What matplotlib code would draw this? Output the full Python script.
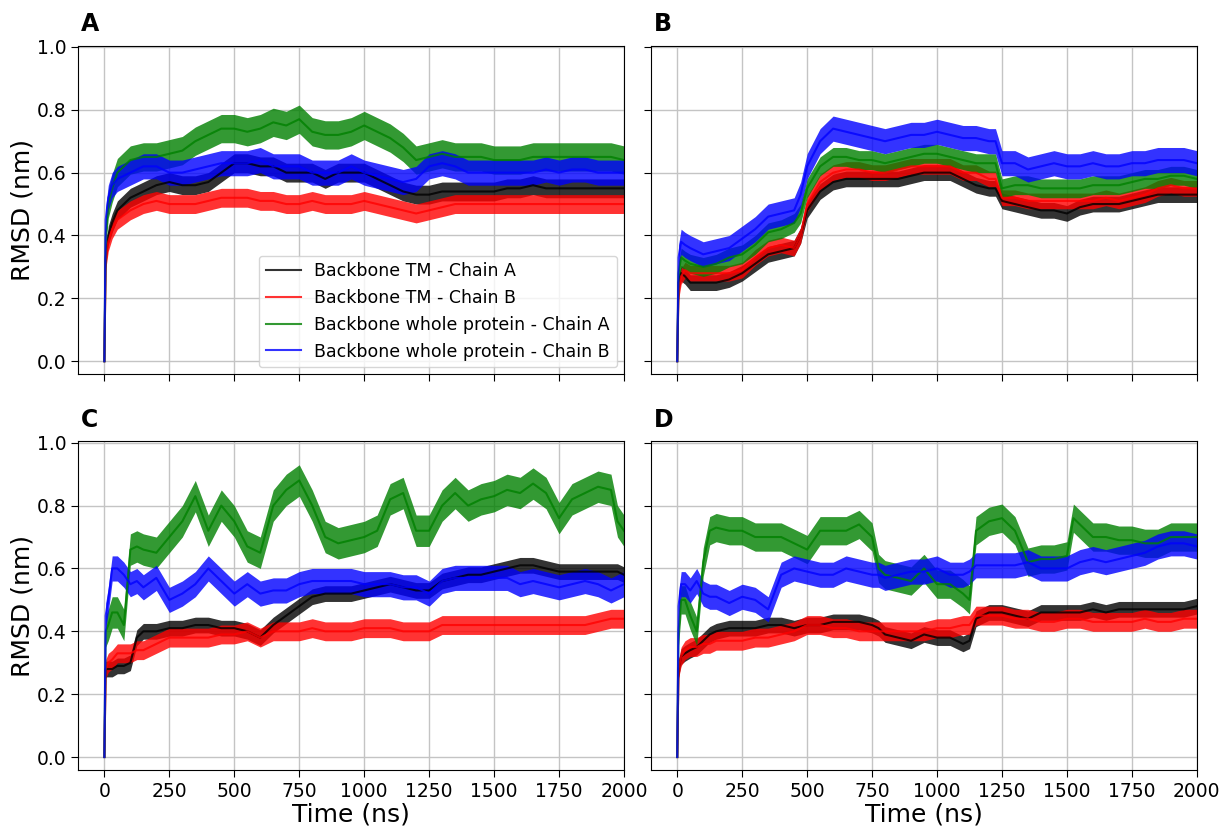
import matplotlib
matplotlib.use('Agg')
import matplotlib.pyplot as plt
import numpy as np

# Simulation time (ns) and mean RMSD (nm) traces, one set per system
time_a = [0, 5, 15, 30, 50, 100, 150, 200, 250, 300, 350, 400, 450, 500, 550,
          600, 650, 700, 750, 800, 850, 900, 950, 1000, 1050, 1100, 1150, 1200,
          1250, 1300, 1350, 1400, 1450, 1500, 1550, 1600, 1650, 1700, 1750,
          1800, 1850, 1900, 1950, 2000]
tm_a_chain_a = [0, 0.33, 0.40, 0.44, 0.48, 0.52, 0.54, 0.56, 0.57, 0.56, 0.56,
                0.57, 0.60, 0.63, 0.63, 0.62, 0.62, 0.60, 0.60, 0.60, 0.58,
                0.60, 0.60, 0.60, 0.58, 0.56, 0.54, 0.53, 0.53, 0.54, 0.54,
                0.54, 0.54, 0.54, 0.55, 0.55, 0.56, 0.55, 0.55, 0.55, 0.55,
                0.55, 0.55, 0.55]
tm_a_chain_b = [0, 0.32, 0.38, 0.42, 0.45, 0.48, 0.50, 0.51, 0.50, 0.50, 0.50,
                0.51, 0.52, 0.52, 0.52, 0.51, 0.51, 0.50, 0.50, 0.51, 0.50,
                0.50, 0.50, 0.51, 0.50, 0.49, 0.48, 0.47, 0.48, 0.49, 0.50,
                0.50, 0.50, 0.50, 0.50, 0.50, 0.50, 0.50, 0.50, 0.50, 0.50,
                0.50, 0.50, 0.50]
whole_a_chain_a = [0, 0.40, 0.50, 0.55, 0.60, 0.64, 0.65, 0.65, 0.66, 0.67,
                   0.70, 0.72, 0.74, 0.74, 0.73, 0.74, 0.76, 0.75, 0.77, 0.73,
                   0.72, 0.72, 0.73, 0.75, 0.73, 0.71, 0.68, 0.64, 0.65, 0.66,
                   0.65, 0.65, 0.65, 0.64, 0.64, 0.64, 0.65, 0.65, 0.65, 0.65,
                   0.65, 0.65, 0.65, 0.64]
whole_a_chain_b = [0, 0.45, 0.52, 0.56, 0.58, 0.60, 0.62, 0.62, 0.60, 0.60,
                   0.61, 0.62, 0.63, 0.63, 0.63, 0.64, 0.62, 0.62, 0.62, 0.60,
                   0.60, 0.60, 0.62, 0.60, 0.59, 0.58, 0.57, 0.58, 0.62, 0.63,
                   0.62, 0.60, 0.60, 0.60, 0.60, 0.60, 0.60, 0.61, 0.60, 0.61,
                   0.61, 0.60, 0.60, 0.60]

time_b = [0, 5, 15, 30, 50, 100, 150, 200, 250, 300, 350, 400, 450, 475, 500,
          550, 600, 650, 700, 750, 800, 850, 900, 950, 1000, 1050, 1100, 1150,
          1200, 1225, 1250, 1300, 1350, 1400, 1450, 1500, 1550, 1600, 1650,
          1700, 1750, 1800, 1850, 1900, 1950, 2000]
tm_b_chain_a = [0, 0.25, 0.28, 0.27, 0.25, 0.25, 0.25, 0.26, 0.28, 0.31, 0.34,
                0.35, 0.36, 0.40, 0.48, 0.54, 0.57, 0.58, 0.58, 0.58, 0.58,
                0.58, 0.59, 0.60, 0.60, 0.60, 0.58, 0.56, 0.55, 0.55, 0.51,
                0.50, 0.49, 0.48, 0.48, 0.47, 0.49, 0.50, 0.50, 0.50, 0.51,
                0.52, 0.53, 0.53, 0.53, 0.53]
tm_b_chain_b = [0, 0.22, 0.27, 0.29, 0.28, 0.28, 0.28, 0.28, 0.29, 0.33, 0.36,
                0.37, 0.36, 0.40, 0.50, 0.57, 0.60, 0.61, 0.61, 0.60, 0.60,
                0.61, 0.62, 0.62, 0.62, 0.62, 0.60, 0.60, 0.58, 0.58, 0.52,
                0.52, 0.51, 0.51, 0.51, 0.51, 0.51, 0.51, 0.52, 0.51, 0.52,
                0.53, 0.55, 0.56, 0.55, 0.55]
whole_b_chain_a = [0, 0.28, 0.33, 0.32, 0.31, 0.30, 0.31, 0.33, 0.34, 0.37,
                   0.41, 0.42, 0.44, 0.47, 0.55, 0.62, 0.65, 0.65, 0.64, 0.64,
                   0.63, 0.64, 0.65, 0.66, 0.66, 0.65, 0.64, 0.63, 0.63, 0.63,
                   0.55, 0.56, 0.56, 0.55, 0.55, 0.55, 0.55, 0.56, 0.56, 0.56,
                   0.57, 0.58, 0.58, 0.59, 0.59, 0.58]
whole_b_chain_b = [0, 0.33, 0.38, 0.37, 0.36, 0.34, 0.35, 0.36, 0.39, 0.42,
                   0.46, 0.47, 0.48, 0.53, 0.62, 0.70, 0.74, 0.73, 0.72, 0.71,
                   0.70, 0.71, 0.72, 0.72, 0.73, 0.72, 0.71, 0.71, 0.70, 0.70,
                   0.63, 0.63, 0.61, 0.62, 0.63, 0.62, 0.62, 0.63, 0.62, 0.62,
                   0.63, 0.63, 0.64, 0.64, 0.64, 0.63]

time_c = [0, 5, 15, 30, 50, 75, 100, 125, 150, 200, 250, 300, 350, 400, 450,
          500, 550, 600, 650, 700, 750, 800, 850, 900, 950, 1000, 1050, 1100,
          1150, 1200, 1250, 1300, 1350, 1400, 1450, 1500, 1550, 1600, 1650,
          1700, 1750, 1800, 1850, 1900, 1950, 1975, 2000]
tm_c_chain_a = [0, 0.28, 0.28, 0.28, 0.29, 0.29, 0.30, 0.38, 0.40, 0.40, 0.41,
                0.41, 0.42, 0.42, 0.41, 0.41, 0.40, 0.38, 0.42, 0.45, 0.48,
                0.51, 0.52, 0.52, 0.52, 0.53, 0.54, 0.55, 0.54, 0.53, 0.53,
                0.56, 0.57, 0.58, 0.58, 0.59, 0.60, 0.61, 0.61, 0.60, 0.59,
                0.59, 0.59, 0.59, 0.59, 0.59, 0.58]
tm_c_chain_b = [0, 0.28, 0.30, 0.31, 0.33, 0.33, 0.33, 0.34, 0.34, 0.36, 0.38,
                0.38, 0.38, 0.38, 0.39, 0.39, 0.40, 0.38, 0.40, 0.40, 0.40,
                0.41, 0.40, 0.40, 0.40, 0.41, 0.41, 0.41, 0.40, 0.40, 0.40,
                0.42, 0.42, 0.42, 0.42, 0.42, 0.42, 0.42, 0.42, 0.42, 0.42,
                0.42, 0.42, 0.43, 0.44, 0.44, 0.44]
whole_c_chain_a = [0, 0.40, 0.42, 0.46, 0.46, 0.42, 0.66, 0.67, 0.66, 0.65,
                   0.70, 0.75, 0.83, 0.72, 0.80, 0.75, 0.67, 0.65, 0.80, 0.85,
                   0.88, 0.80, 0.70, 0.68, 0.69, 0.70, 0.72, 0.82, 0.84, 0.72,
                   0.72, 0.80, 0.84, 0.80, 0.82, 0.83, 0.85, 0.84, 0.87, 0.84,
                   0.76, 0.82, 0.84, 0.86, 0.85, 0.75, 0.72]
whole_c_chain_b = [0, 0.45, 0.50, 0.60, 0.60, 0.58, 0.55, 0.56, 0.54, 0.57,
                   0.50, 0.52, 0.55, 0.60, 0.56, 0.52, 0.55, 0.52, 0.53, 0.53,
                   0.55, 0.56, 0.56, 0.56, 0.56, 0.55, 0.55, 0.55, 0.54, 0.54,
                   0.52, 0.56, 0.57, 0.57, 0.57, 0.57, 0.57, 0.55, 0.56, 0.55,
                   0.54, 0.55, 0.56, 0.55, 0.53, 0.54, 0.55]

time_d = [0, 5, 15, 30, 50, 75, 100, 125, 150, 200, 250, 300, 350, 400, 450,
          500, 550, 600, 650, 700, 750, 775, 800, 850, 900, 950, 1000, 1050,
          1100, 1125, 1150, 1200, 1250, 1300, 1350, 1400, 1450, 1500, 1525,
          1550, 1600, 1650, 1700, 1750, 1800, 1850, 1900, 1950, 2000]
tm_d_chain_a = [0, 0.28, 0.32, 0.33, 0.34, 0.35, 0.37, 0.39, 0.40, 0.41, 0.41,
                0.41, 0.42, 0.42, 0.41, 0.42, 0.42, 0.43, 0.43, 0.43, 0.42,
                0.41, 0.39, 0.38, 0.37, 0.39, 0.38, 0.38, 0.36, 0.37, 0.44,
                0.46, 0.46, 0.45, 0.44, 0.46, 0.46, 0.46, 0.46, 0.46, 0.47,
                0.46, 0.47, 0.47, 0.47, 0.47, 0.47, 0.47, 0.48]
tm_d_chain_b = [0, 0.28, 0.32, 0.34, 0.35, 0.35, 0.36, 0.36, 0.37, 0.37, 0.37,
                0.38, 0.38, 0.39, 0.40, 0.42, 0.42, 0.41, 0.41, 0.40, 0.40,
                0.40, 0.40, 0.40, 0.40, 0.40, 0.41, 0.41, 0.42, 0.42, 0.45,
                0.45, 0.45, 0.44, 0.44, 0.43, 0.43, 0.44, 0.44, 0.44, 0.43,
                0.43, 0.43, 0.43, 0.44, 0.43, 0.43, 0.44, 0.44]
whole_d_chain_a = [0, 0.40, 0.50, 0.50, 0.45, 0.40, 0.62, 0.72, 0.73, 0.72,
                   0.72, 0.70, 0.70, 0.70, 0.68, 0.66, 0.72, 0.72, 0.72, 0.74,
                   0.70, 0.60, 0.58, 0.57, 0.56, 0.60, 0.55, 0.55, 0.52, 0.50,
                   0.72, 0.75, 0.76, 0.72, 0.62, 0.63, 0.63, 0.64, 0.76, 0.74,
                   0.70, 0.70, 0.69, 0.69, 0.68, 0.68, 0.70, 0.70, 0.70]
whole_d_chain_b = [0, 0.48, 0.55, 0.55, 0.53, 0.56, 0.52, 0.51, 0.51, 0.49,
                   0.51, 0.50, 0.47, 0.58, 0.60, 0.59, 0.58, 0.58, 0.60, 0.59,
                   0.58, 0.58, 0.57, 0.58, 0.59, 0.59, 0.60, 0.58, 0.58, 0.59,
                   0.61, 0.61, 0.61, 0.61, 0.62, 0.60, 0.60, 0.60, 0.61, 0.62,
                   0.63, 0.62, 0.63, 0.64, 0.65, 0.67, 0.68, 0.68, 0.67]

# Typical fluctuation half-width of each trace (nm), order: TM A, TM B, whole A, whole B
spread_a = [0.03, 0.03, 0.045, 0.04]
spread_b = [0.025, 0.025, 0.03, 0.04]
spread_c = [0.025, 0.03, 0.05, 0.04]
spread_d = [0.025, 0.03, 0.045, 0.04]

labels = ['Backbone TM - Chain A', 'Backbone TM - Chain B',
          'Backbone whole protein - Chain A', 'Backbone whole protein - Chain B']
colors = ['black', 'red', 'green', 'blue']

panels = [
    ('A', time_a, [tm_a_chain_a, tm_a_chain_b, whole_a_chain_a, whole_a_chain_b], spread_a),
    ('B', time_b, [tm_b_chain_a, tm_b_chain_b, whole_b_chain_a, whole_b_chain_b], spread_b),
    ('C', time_c, [tm_c_chain_a, tm_c_chain_b, whole_c_chain_a, whole_c_chain_b], spread_c),
    ('D', time_d, [tm_d_chain_a, tm_d_chain_b, whole_d_chain_a, whole_d_chain_b], spread_d),
]


def main():
    fig, axes = plt.subplots(2, 2, figsize=(12.25, 8.3), dpi=100,
                             sharex=True, sharey=True)
    fig.subplots_adjust(left=0.064, right=0.977, bottom=0.072, top=0.945,
                        wspace=0.05, hspace=0.204)

    for ax, (letter, t, series, spread) in zip(axes.flat, panels):
        t = np.array(t)
        for y, hw, color, label in zip(series, spread, colors, labels):
            y = np.array(y)
            ax.plot(t, y, color=color, lw=1.5, alpha=0.8, label=label)
            ax.fill_between(t[1:], y[1:] - hw, y[1:] + hw, color=color,
                            alpha=0.8, lw=0)
        ax.grid(True, color='#c4c4c4', lw=1)
        ax.set_axisbelow(True)
        ax.tick_params(labelsize=13.5, length=5)
        ax.text(0.004, 1.03, letter, transform=ax.transAxes, fontsize=17,
                fontweight='bold', va='bottom', ha='left')

    ax = axes[0, 0]
    ax.set_xlim(-100, 2000)
    ax.set_ylim(-0.042, 1.004)
    ax.set_xticks([0, 250, 500, 750, 1000, 1250, 1500, 1750, 2000])
    ax.set_yticks([0.0, 0.2, 0.4, 0.6, 0.8, 1.0])
    ax.legend(loc='lower right', fontsize=12.5, framealpha=0.8,
              borderaxespad=0.4, handlelength=2.0)

    for a in axes[:, 0]:
        a.set_ylabel('RMSD (nm)', fontsize=18, labelpad=2)
    for a in axes[1, :]:
        a.set_xlabel('Time (ns)', fontsize=18, labelpad=1)

    fig.savefig('out.png', dpi=100)


if __name__ == '__main__':
    main()
